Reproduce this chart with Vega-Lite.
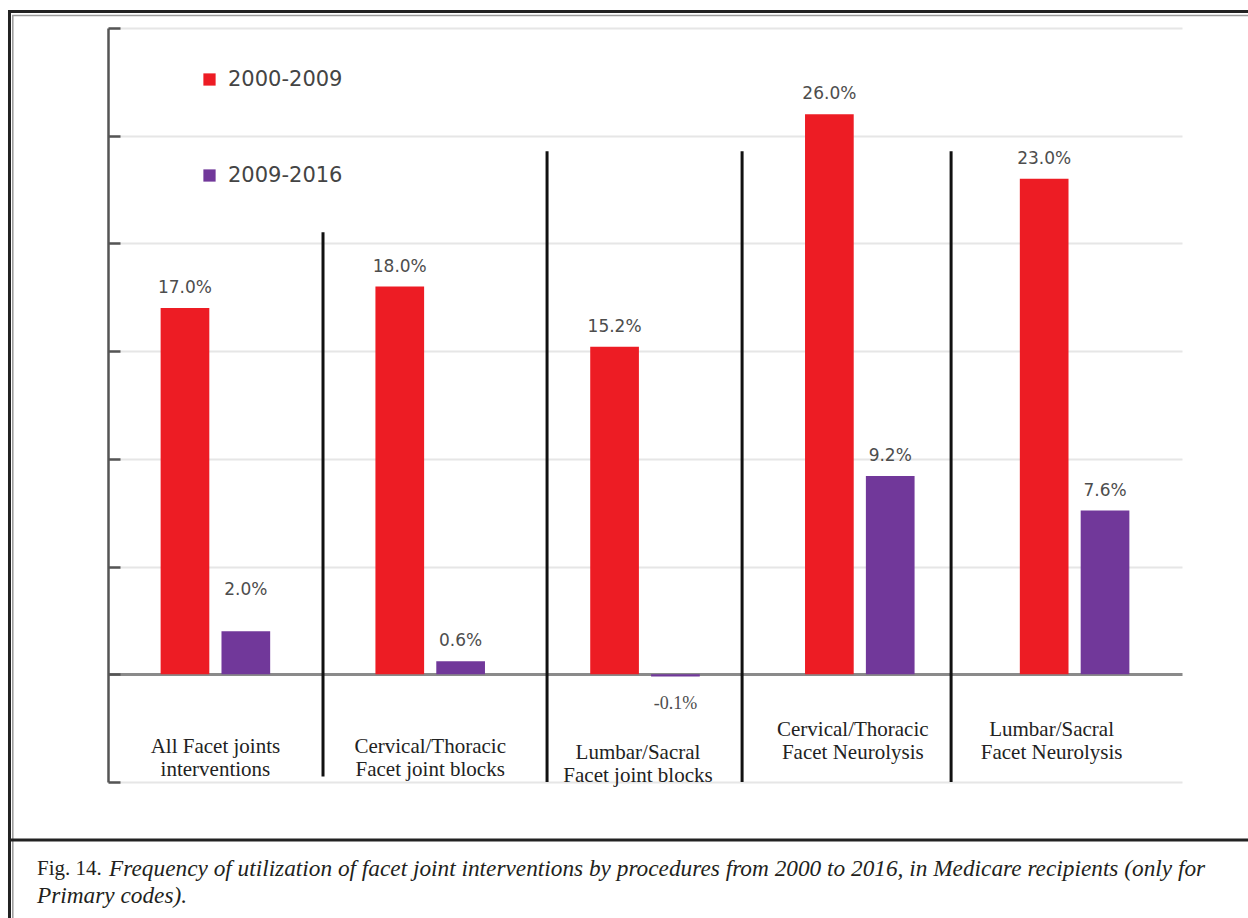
{
  "$schema": "https://vega.github.io/schema/vega-lite/v6.json",
  "width": 1074,
  "height": 754,
  "autosize": {"type": "none"},
  "padding": {"left": 108, "top": 28, "right": 66, "bottom": 136},
  "background": "white",
  "config": {"view": {"stroke": null}},
  "datasets": {
    "bars": [
      {"group": "All Facet joints interventions", "period": "2000-2009", "value": 0.170, "label": "17.0%"},
      {"group": "All Facet joints interventions", "period": "2009-2016", "value": 0.020, "label": "2.0%"},
      {"group": "Cervical/Thoracic Facet joint blocks", "period": "2000-2009", "value": 0.180, "label": "18.0%"},
      {"group": "Cervical/Thoracic Facet joint blocks", "period": "2009-2016", "value": 0.006, "label": "0.6%"},
      {"group": "Lumbar/Sacral Facet joint blocks", "period": "2000-2009", "value": 0.152, "label": "15.2%"},
      {"group": "Lumbar/Sacral Facet joint blocks", "period": "2009-2016", "value": -0.001, "label": "-0.1%"},
      {"group": "Cervical/Thoracic Facet Neurolysis", "period": "2000-2009", "value": 0.260, "label": "26.0%"},
      {"group": "Cervical/Thoracic Facet Neurolysis", "period": "2009-2016", "value": 0.092, "label": "9.2%"},
      {"group": "Lumbar/Sacral Facet Neurolysis", "period": "2000-2009", "value": 0.230, "label": "23.0%"},
      {"group": "Lumbar/Sacral Facet Neurolysis", "period": "2009-2016", "value": 0.076, "label": "7.6%"}
    ],
    "cats": [
      {"group": "All Facet joints interventions", "label": "All Facet joints|interventions"},
      {"group": "Cervical/Thoracic Facet joint blocks", "label": "Cervical/Thoracic|Facet joint blocks"},
      {"group": "Lumbar/Sacral Facet joint blocks", "label": "Lumbar/Sacral|Facet joint blocks"},
      {"group": "Cervical/Thoracic Facet Neurolysis", "label": "Cervical/Thoracic|Facet Neurolysis"},
      {"group": "Lumbar/Sacral Facet Neurolysis", "label": "Lumbar/Sacral|Facet Neurolysis"}
    ],
    "one": [{"k": 1}]
  },
  "layer": [
    {
      "layer": [
        {
          "data": {"name": "bars"},
          "mark": {"type": "bar"},
          "encoding": {
            "x": {"field": "group", "type": "nominal", "sort": null,
                  "scale": {"domain": ["All Facet joints interventions", "Cervical/Thoracic Facet joint blocks", "Lumbar/Sacral Facet joint blocks", "Cervical/Thoracic Facet Neurolysis", "Lumbar/Sacral Facet Neurolysis"], "paddingInner": 0.49, "paddingOuter": 0.245},
                  "axis": null},
            "xOffset": {"field": "period", "type": "nominal", "scale": {"paddingInner": 0.2, "paddingOuter": 0}},
            "y": {"field": "value", "type": "quantitative",
                  "scale": {"domain": [-0.05, 0.3], "nice": false, "zero": false},
                  "axis": {"title": null, "values": [-0.05, 0, 0.05, 0.1, 0.15, 0.2, 0.25, 0.3], "labels": false,
                           "domain": true, "ticks": true,
                           "domainColor": "#555555", "domainWidth": 2.5,
                           "tickColor": "#555555", "tickWidth": 2.5, "tickSize": -12,
                           "grid": true,
                           "gridColor": {"condition": {"test": "datum.value === 0", "value": "#8a8a8a"}, "value": "#e6e6e6"},
                           "gridWidth": {"condition": {"test": "datum.value === 0", "value": 3}, "value": 2}}},
            "color": {"field": "period", "type": "nominal",
                      "scale": {"domain": ["2000-2009", "2009-2016"], "range": ["#ED1C24", "#71389A"]},
                      "legend": {"orient": "none", "legendX": 91, "legendY": 41, "title": null, "direction": "vertical",
                                 "symbolType": "square", "symbolSize": 150, "symbolStrokeWidth": 0,
                                 "labelFont": "DejaVu Sans", "labelFontSize": 21, "labelColor": "#444444",
                                 "labelOffset": 8, "rowPadding": 74, "padding": 0}}
          }
        },
        {
          "data": {"name": "bars"},
          "mark": {"type": "text", "baseline": "middle", "color": "#4d4d4d",
                   "fontSize": {"expr": "datum.value < 0 ? 18 : 17"},
                   "letterSpacing": {"expr": "datum.value < 0 ? 0 : 1.3"},
                   "font": {"expr": "datum.value < 0 ? 'Liberation Serif' : 'DejaVu Sans'"},
                   "dy": {"expr": "datum.value < 0 ? 28 : (datum.value == 0.02 ? -41 : -20)"}},
          "encoding": {
            "x": {"field": "group", "type": "nominal", "sort": null,
                  "scale": {"domain": ["All Facet joints interventions", "Cervical/Thoracic Facet joint blocks", "Lumbar/Sacral Facet joint blocks", "Cervical/Thoracic Facet Neurolysis", "Lumbar/Sacral Facet Neurolysis"], "paddingInner": 0.49, "paddingOuter": 0.245},
                  "axis": null},
            "xOffset": {"field": "period", "type": "nominal", "scale": {"paddingInner": 0.2, "paddingOuter": 0}},
            "y": {"field": "value", "type": "quantitative", "scale": {"domain": [-0.05, 0.3], "nice": false, "zero": false}},
            "text": {"field": "label", "type": "nominal"}
          }
        },
        {
          "data": {"name": "cats"},
          "mark": {"type": "text", "baseline": "top", "align": "center", "lineBreak": "|", "lineHeight": 23,
                   "font": "Liberation Serif", "fontSize": 21, "color": "#222222",
                   "dx": {"expr": "datum.group == 'Lumbar/Sacral Facet Neurolysis' ? -23 : ((datum.group == 'Lumbar/Sacral Facet joint blocks' || datum.group == 'Cervical/Thoracic Facet Neurolysis') ? -7 : 0)"},
                   "dy": {"expr": "indexof(datum.group, 'Neurolysis') >= 0 ? -63 : (datum.group == 'Lumbar/Sacral Facet joint blocks' ? -40 : -46)"}},
          "encoding": {
            "x": {"field": "group", "type": "nominal", "sort": null,
                  "scale": {"domain": ["All Facet joints interventions", "Cervical/Thoracic Facet joint blocks", "Lumbar/Sacral Facet joint blocks", "Cervical/Thoracic Facet Neurolysis", "Lumbar/Sacral Facet Neurolysis"], "paddingInner": 0.49, "paddingOuter": 0.245},
                  "axis": null},
            "y": {"datum": -0.05, "type": "quantitative", "scale": {"domain": [-0.05, 0.3], "nice": false, "zero": false}},
            "text": {"field": "label", "type": "nominal"}
          }
        }
      ]
    },
    {
      "data": {"name": "one"},
      "layer": [
        {
          "mark": {"type": "rect", "filled": false, "stroke": "#222222", "strokeWidth": 3},
          "encoding": {
            "x": {"datum": -0.4586, "type": "quantitative", "scale": {"domain": [0, 5], "nice": false, "zero": false}, "axis": null},
            "x2": {"datum": 5.6},
            "y": {"datum": 0.30766, "type": "quantitative", "scale": {"domain": [-0.05, 0.3], "nice": false, "zero": false}},
            "y2": {"datum": -0.13}
          }
        },
        {
          "mark": {"type": "rect", "filled": false, "stroke": "#9a9a9a", "strokeWidth": 1.5},
          "encoding": {
            "x": {"datum": -0.4432, "type": "quantitative", "scale": {"domain": [0, 5], "nice": false, "zero": false}, "axis": null},
            "x2": {"datum": 5.6},
            "y": {"datum": 0.3058, "type": "quantitative", "scale": {"domain": [-0.05, 0.3], "nice": false, "zero": false}},
            "y2": {"datum": -0.13}
          }
        },
        {
          "mark": {"type": "rule", "stroke": "#222222", "strokeWidth": 3},
          "encoding": {
            "x": {"datum": -0.4586, "type": "quantitative", "scale": {"domain": [0, 5], "nice": false, "zero": false}, "axis": null},
            "x2": {"datum": 5.6},
            "y": {"datum": -0.07692, "type": "quantitative", "scale": {"domain": [-0.05, 0.3], "nice": false, "zero": false}}
          }
        },
        {
          "mark": {"type": "rule", "stroke": "#111111", "strokeWidth": 3},
          "encoding": {
            "x": {"datum": 1.001, "type": "quantitative", "scale": {"domain": [0, 5], "nice": false, "zero": false}, "axis": null},
            "y": {"datum": 0.2052, "type": "quantitative", "scale": {"domain": [-0.05, 0.3], "nice": false, "zero": false}},
            "y2": {"datum": -0.0474}
          }
        },
        {
          "mark": {"type": "rule", "stroke": "#111111", "strokeWidth": 3},
          "encoding": {
            "x": {"datum": 2.044, "type": "quantitative", "scale": {"domain": [0, 5], "nice": false, "zero": false}, "axis": null},
            "y": {"datum": 0.2428, "type": "quantitative", "scale": {"domain": [-0.05, 0.3], "nice": false, "zero": false}},
            "y2": {"datum": -0.05}
          }
        },
        {
          "mark": {"type": "rule", "stroke": "#111111", "strokeWidth": 3},
          "encoding": {
            "x": {"datum": 2.952, "type": "quantitative", "scale": {"domain": [0, 5], "nice": false, "zero": false}, "axis": null},
            "y": {"datum": 0.2428, "type": "quantitative", "scale": {"domain": [-0.05, 0.3], "nice": false, "zero": false}},
            "y2": {"datum": -0.05}
          }
        },
        {
          "mark": {"type": "rule", "stroke": "#111111", "strokeWidth": 3},
          "encoding": {
            "x": {"datum": 3.925, "type": "quantitative", "scale": {"domain": [0, 5], "nice": false, "zero": false}, "axis": null},
            "y": {"datum": 0.2428, "type": "quantitative", "scale": {"domain": [-0.05, 0.3], "nice": false, "zero": false}},
            "y2": {"datum": -0.05}
          }
        },
        {
          "mark": {"type": "text", "text": "Fig. 14.", "align": "left", "baseline": "middle", "font": "Liberation Serif", "fontSize": 21, "color": "#231f20"},
          "encoding": {
            "x": {"datum": -0.3305, "type": "quantitative", "scale": {"domain": [0, 5], "nice": false, "zero": false}, "axis": null},
            "y": {"datum": -0.09038, "type": "quantitative", "scale": {"domain": [-0.05, 0.3], "nice": false, "zero": false}}
          }
        },
        {
          "mark": {"type": "text", "text": "Frequency of  utilization of  facet joint interventions by procedures from 2000 to 2016, in Medicare recipients (only for", "align": "left", "baseline": "middle", "font": "Liberation Serif", "fontSize": 23.3, "fontStyle": "italic", "color": "#231f20"},
          "encoding": {
            "x": {"datum": 0.005, "type": "quantitative", "scale": {"domain": [0, 5], "nice": false, "zero": false}, "axis": null},
            "y": {"datum": -0.09038, "type": "quantitative", "scale": {"domain": [-0.05, 0.3], "nice": false, "zero": false}}
          }
        },
        {
          "mark": {"type": "text", "text": "Primary codes).", "align": "left", "baseline": "middle", "font": "Liberation Serif", "fontSize": 23.3, "fontStyle": "italic", "color": "#231f20"},
          "encoding": {
            "x": {"datum": -0.3305, "type": "quantitative", "scale": {"domain": [0, 5], "nice": false, "zero": false}, "axis": null},
            "y": {"datum": -0.10291, "type": "quantitative", "scale": {"domain": [-0.05, 0.3], "nice": false, "zero": false}}
          }
        }
      ]
    }
  ],
  "resolve": {"scale": {"x": "independent"}}
}
